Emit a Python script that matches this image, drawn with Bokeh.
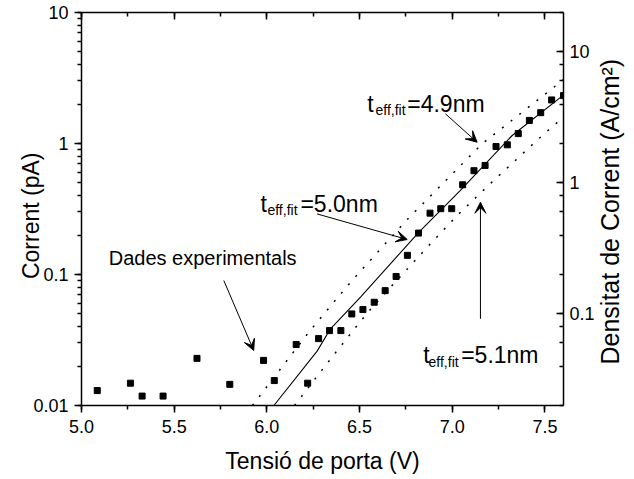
import math
from bokeh.plotting import figure
from bokeh.models import (Range1d, LogScale, LinearScale, LogAxis, LinearAxis,
                          SingleIntervalTicker, FixedTicker, PrintfTickFormatter,
                          CustomJSTickFormatter, Arrow, VeeHead, LogTicker)
from bokeh.core.properties import value
from bokeh.embed import file_html
from bokeh.resources import INLINE

# ---------------- data ----------------
v_exp = [5.085, 5.264, 5.327, 5.44, 5.623, 5.80, 5.982, 6.04, 6.158, 6.22, 6.279,
         6.338, 6.399, 6.458, 6.518, 6.579, 6.638, 6.697, 6.758, 6.818, 6.880,
         6.938, 6.997, 7.056, 7.117, 7.177, 7.236, 7.297, 7.356, 7.416, 7.477,
         7.536, 7.6]
i_exp = [0.013, 0.0148, 0.0118, 0.0118, 0.0229, 0.0145, 0.0221, 0.0155, 0.0292,
         0.0148, 0.0324, 0.0373, 0.0373, 0.050, 0.054, 0.0614, 0.0753, 0.0966,
         0.14, 0.207, 0.294, 0.318, 0.318, 0.484, 0.62, 0.68, 0.948, 0.977, 1.19,
         1.5, 1.72, 2.15, 2.32]

v_fit50 = [6.038, 6.271, 6.343, 6.505, 6.819, 7.044, 7.323, 7.601]
i_fit50 = [0.0100, 0.0260, 0.0385, 0.0671, 0.210, 0.438, 1.151, 2.35]

v_fit49 = [5.922, 6.226, 6.451, 6.757, 7.161, 7.601]
i_fit49 = [0.0100, 0.0363, 0.0873, 0.263, 0.995, 3.08]

v_fit51 = [6.149, 6.316, 6.505, 6.577, 6.864, 7.035, 7.206, 7.467, 7.601]
i_fit51 = [0.0100, 0.0202, 0.044, 0.058, 0.161, 0.290, 0.495, 1.09, 1.60]

x_ticks_interval = 0.5
x_label = "Tensió de porta (V)"
y_label = "Corrent (pA)"
y2_label = "Densitat de Corrent (A/cm²)"

FONT = "Liberation Sans"

p = figure(frame_width=482, frame_height=393,
           x_range=Range1d(5.0, 7.6), y_range=Range1d(0.01, 10),
           y_axis_type="log", output_backend="svg", toolbar_location=None,
           min_border_left=81, min_border_right=71, min_border_top=12,
           min_border_bottom=74)
p.grid.visible = False
p.outline_line_color = None
p.background_fill_color = "white"
p.border_fill_color = "white"


def style(ax):
    ax.axis_line_width = 1.5
    ax.axis_line_color = "black"
    ax.major_tick_line_width = 1.5
    ax.minor_tick_line_width = 1.5
    ax.major_tick_line_color = "black"
    ax.minor_tick_line_color = "black"
    ax.major_label_text_font = FONT
    ax.major_label_text_font_size = "18px"
    ax.major_label_text_color = "black"
    ax.axis_label_text_font = FONT
    ax.axis_label_text_font_size = "23px"
    ax.axis_label_text_font_style = "normal"
    ax.axis_label_text_color = "black"


def title_axis(text, tick, size, standoff):
    """A tick-less guide whose single label serves as a rotated axis title."""
    ax = LinearAxis(y_range_name="lab", ticker=FixedTicker(ticks=[tick]),
                    formatter=CustomJSTickFormatter(args=dict(t=text), code="return t;"))
    ax.major_label_orientation = math.pi / 2
    ax.major_tick_in = 0
    ax.major_tick_out = 0
    ax.minor_tick_in = 0
    ax.minor_tick_out = 0
    ax.axis_line_color = None
    ax.major_tick_line_color = None
    ax.minor_tick_line_color = None
    ax.major_label_standoff = standoff
    ax.major_label_text_font = FONT
    ax.major_label_text_font_size = size
    ax.major_label_text_color = "black"
    return ax


# bottom axis
xa = p.xaxis[0]
style(xa)
xa.ticker = SingleIntervalTicker(interval=x_ticks_interval, num_minor_ticks=2)
xa.formatter = PrintfTickFormatter(format="%.1f")
xa.major_tick_out = 7
xa.major_tick_in = 0
xa.minor_tick_out = 4
xa.minor_tick_in = 0
xa.major_label_standoff = 7
xa.axis_label = x_label
xa.axis_label_standoff = 12

# top axis (ticks only, inward)
ta = LinearAxis(ticker=SingleIntervalTicker(interval=x_ticks_interval, num_minor_ticks=2),
                formatter=CustomJSTickFormatter(code="return '';"))
style(ta)
ta.major_tick_in = 7
ta.major_tick_out = 0
ta.minor_tick_in = 4
ta.minor_tick_out = 0
ta.major_label_standoff = 0
p.add_layout(ta, "above")

# left axis
ya = p.yaxis[0]
style(ya)
ya.formatter = CustomJSTickFormatter(code="return String(parseFloat(tick.toPrecision(6)));")
ya.major_tick_out = 7
ya.major_tick_in = 0
ya.minor_tick_out = 4
ya.minor_tick_in = 0
ya.major_label_standoff = 6

p.extra_y_ranges = {"j": Range1d(0.02, 20), "lab": Range1d(0, 393)}
p.extra_y_scales = {"j": LogScale(), "lab": LinearScale()}

# left-hand axis title
p.add_layout(title_axis(y_label, 253, "23px", 0), "left")

# right axis (current density)
ra = LogAxis(y_range_name="j", ticker=LogTicker())
style(ra)
ra.formatter = CustomJSTickFormatter(code="return String(parseFloat(tick.toPrecision(6)));")
ra.major_tick_in = 7
ra.major_tick_out = 0
ra.minor_tick_in = 4
ra.minor_tick_out = 0
ra.major_label_standoff = 6
p.add_layout(ra, "right")

# right-hand axis title (reads bottom to top)
p.add_layout(title_axis(y2_label, 41, "25px", 12), "right")

# ---------------- glyphs ----------------
p.line(v_fit49, i_fit49, line_color="black", line_width=1.5, line_dash="2 9")
p.line(v_fit51, i_fit51, line_color="black", line_width=1.5, line_dash="2 9")
p.line(v_fit50, i_fit50, line_color="black", line_width=1.1)
p.scatter(v_exp, i_exp, marker="square", size=6, fill_color="black", line_color="black")

# ---------------- annotations ----------------
p.text(x=[6.541, 5.9655, 6.843], y=[2.01, 0.347, 0.0241], text=["t", "t", "t"],
       text_font=value(FONT), text_font_size="23px", text_baseline="alphabetic",
       text_align="left", text_color="black")
p.text(x=[6.586, 6.003, 6.872], y=[1.787, 0.313, 0.0214],
       text=["eff,fit", "eff,fit", "eff,fit"],
       text_font=value(FONT), text_font_size="14px", text_baseline="alphabetic",
       text_align="left", text_color="black")
p.text(x=[6.757, 6.181, 7.048], y=[2.01, 0.347, 0.0241],
       text=["=4.9nm", "=5.0nm", "=5.1nm"],
       text_font=value(FONT), text_font_size="23px", text_baseline="alphabetic",
       text_align="left", text_color="black")
p.text(x=[5.147], y=[0.134], text=["Dades experimentals"],
       text_font=value(FONT), text_font_size="20px", text_baseline="alphabetic",
       text_align="left", text_color="black")

arrows = [
    (5.7675, 0.0900, 5.929, 0.0263),
    (6.271, 0.290, 6.757, 0.185),
    (6.963, 1.685, 7.134, 1.023),
    (7.152, 0.0459, 7.152, 0.356),
]
for xs, ys, xe, ye in arrows:
    p.add_layout(Arrow(end=VeeHead(size=11, fill_color="black", line_color="black", line_width=1),
                       x_start=xs, y_start=ys, x_end=xe, y_end=ye,
                       line_color="black", line_width=1))

open("out.html", "w").write(file_html(p, INLINE))
